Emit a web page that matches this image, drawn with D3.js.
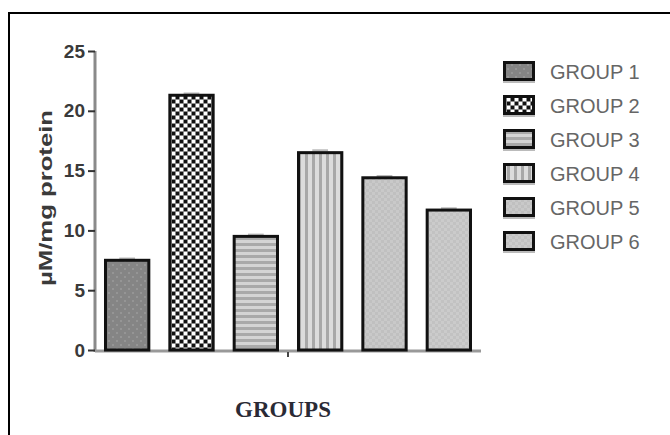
<!DOCTYPE html>
<html>
<head>
<meta charset="utf-8">
<script src="https://cdn.jsdelivr.net/npm/d3@7"></script>
<style>
  html, body { margin: 0; padding: 0; background: #fff; }
  svg { display: block; }
</style>
</head>
<body>
<svg id="chart" width="670" height="435"></svg>
<script>
// Enzyme activity per group (µM/mg protein) with small SEM
const categories = ["GROUP 1", "GROUP 2", "GROUP 3", "GROUP 4", "GROUP 5", "GROUP 6"];
const values = [7.5, 21.3, 9.5, 16.5, 14.4, 11.7];
const errors = [0.15, 0.15, 0.15, 0.2, 0.15, 0.15];
const yTicks = [0, 5, 10, 15, 20, 25];
const patternIds = ["p1", "p2", "p3", "p4", "p5", "p6"];

const svg = d3.select("#chart");
const defs = svg.append("defs");

// Fill patterns for each group
function pat(id, w, h) {
  return defs.append("pattern").attr("id", id).attr("patternUnits", "userSpaceOnUse")
    .attr("width", w).attr("height", h);
}
let p = pat("p1", 8, 8);
p.append("rect").attr("width", 8).attr("height", 8).attr("fill", "#858585");
p.append("rect").attr("x", 0).attr("y", 0).attr("width", 2).attr("height", 2).attr("fill", "#959595");
p.append("rect").attr("x", 4).attr("y", 4).attr("width", 2).attr("height", 2).attr("fill", "#959595");

p = pat("p2", 8, 8);
p.append("rect").attr("width", 8).attr("height", 8).attr("fill", "#8a8a8a");
p.append("rect").attr("x", 0).attr("y", 0).attr("width", 3).attr("height", 3).attr("fill", "#111");
p.append("rect").attr("x", 4).attr("y", 4).attr("width", 3).attr("height", 3).attr("fill", "#111");
p.append("rect").attr("x", 4).attr("y", 0).attr("width", 3).attr("height", 3).attr("fill", "#fff");
p.append("rect").attr("x", 0).attr("y", 4).attr("width", 3).attr("height", 3).attr("fill", "#fff");

p = pat("p3", 6, 6);
p.append("rect").attr("width", 6).attr("height", 6).attr("fill", "#d4d4d4");
p.append("rect").attr("y", 3).attr("width", 6).attr("height", 3).attr("fill", "#a9a9a9");

p = pat("p4", 7, 7);
p.append("rect").attr("width", 7).attr("height", 7).attr("fill", "#dcdcdc");
p.append("rect").attr("x", 4).attr("width", 3).attr("height", 7).attr("fill", "#a8a8a8");

p = pat("p5", 6, 6);
p.append("rect").attr("width", 6).attr("height", 6).attr("fill", "#c0c0c0");
p.append("rect").attr("width", 3).attr("height", 3).attr("fill", "#c9c9c9");
p.append("rect").attr("x", 3).attr("y", 3).attr("width", 3).attr("height", 3).attr("fill", "#c9c9c9");

p = pat("p6", 6, 6);
p.append("rect").attr("width", 6).attr("height", 6).attr("fill", "#c2c2c2");
p.append("rect").attr("width", 3).attr("height", 3).attr("fill", "#cbcbcb");
p.append("rect").attr("x", 3).attr("y", 3).attr("width", 3).attr("height", 3).attr("fill", "#cbcbcb");

// Frame lines
svg.append("line").attr("x1", 9).attr("x2", 670).attr("y1", 13).attr("y2", 13)
  .attr("stroke", "#000").attr("stroke-width", 2);
svg.append("line").attr("x1", 9).attr("x2", 9).attr("y1", 12).attr("y2", 435)
  .attr("stroke", "#000").attr("stroke-width", 2);

// Scales
const x = d3.scaleBand().domain(categories).range([95, 481]).paddingInner(0.28).paddingOuter(0.14);
const y = d3.scaleLinear().domain([0, 25]).range([350, 51]);

// Y axis
const yAxis = svg.append("g").attr("transform", "translate(95,0)")
  .call(d3.axisLeft(y).tickValues(yTicks).tickSize(7).tickPadding(3));
yAxis.select(".domain").attr("stroke", "#8a8a8a").attr("stroke-width", 3).attr("d", "M0,51V352");
yAxis.selectAll(".tick line").attr("stroke", "#333").attr("stroke-width", 2);
yAxis.selectAll(".tick text")
  .attr("font-family", "Liberation Sans, Arial, sans-serif")
  .attr("font-size", 19).attr("font-weight", "bold").attr("fill", "#3a3a3a");

// X axis baseline with a single centre tick
svg.append("line").attr("x1", 95).attr("x2", 481).attr("y1", y(0) + 1).attr("y2", y(0) + 1)
  .attr("stroke", "#999").attr("stroke-width", 3);
svg.append("line").attr("x1", (x.range()[0] + x.range()[1]) / 2).attr("x2", (x.range()[0] + x.range()[1]) / 2)
  .attr("y1", y(0) + 2).attr("y2", y(0) + 7).attr("stroke", "#444").attr("stroke-width", 2);

// Error caps
const data = categories.map((c, i) => ({ c, v: values[i], e: errors[i], pid: patternIds[i] }));
svg.append("g").selectAll("line").data(data).join("line")
  .attr("x1", d => x(d.c) + x.bandwidth() * 0.33).attr("x2", d => x(d.c) + x.bandwidth() * 0.67)
  .attr("y1", d => y(d.v + d.e)).attr("y2", d => y(d.v + d.e))
  .attr("stroke", "#bbb").attr("stroke-width", 2);

// Bars
svg.append("g").selectAll("rect").data(data).join("rect")
  .attr("x", d => x(d.c) + 1.5).attr("width", x.bandwidth() - 3)
  .attr("y", d => y(d.v)).attr("height", d => y(0) - y(d.v))
  .attr("fill", d => `url(#${d.pid})`)
  .attr("stroke", "#111").attr("stroke-width", 3);

// Y title
svg.append("text")
  .attr("transform", "translate(52,198) rotate(-90)")
  .attr("text-anchor", "middle")
  .attr("font-family", "Liberation Sans, Arial, sans-serif")
  .attr("font-size", 19).attr("font-weight", "bold").attr("fill", "#3a3a3a")
  .attr("textLength", 176).attr("lengthAdjust", "spacingAndGlyphs")
  .text("µM/mg protein");

// X title
svg.append("text")
  .attr("x", 283).attr("y", 417)
  .attr("text-anchor", "middle")
  .attr("font-family", "Liberation Serif, Times New Roman, serif")
  .attr("font-size", 23).attr("font-weight", "bold").attr("fill", "#2a2a35")
  .text("GROUPS");

// Legend
const legend = svg.append("g").selectAll("g").data(data).join("g")
  .attr("transform", (d, i) => `translate(503,${72 + i * 34})`);
legend.append("rect").attr("x", 0).attr("y", -7).attr("width", 32).attr("height", 18)
  .attr("fill", "#bbb");
legend.append("rect").attr("x", 1.5).attr("y", -9.5).attr("width", 29).attr("height", 17)
  .attr("fill", d => `url(#${d.pid})`).attr("stroke", "#111").attr("stroke-width", 3);
legend.append("text").attr("x", 47).attr("y", 7)
  .attr("font-family", "Liberation Sans, Arial, sans-serif")
  .attr("font-size", 20).attr("fill", "#666")
  .text(d => d.c);
</script>
</body>
</html>
